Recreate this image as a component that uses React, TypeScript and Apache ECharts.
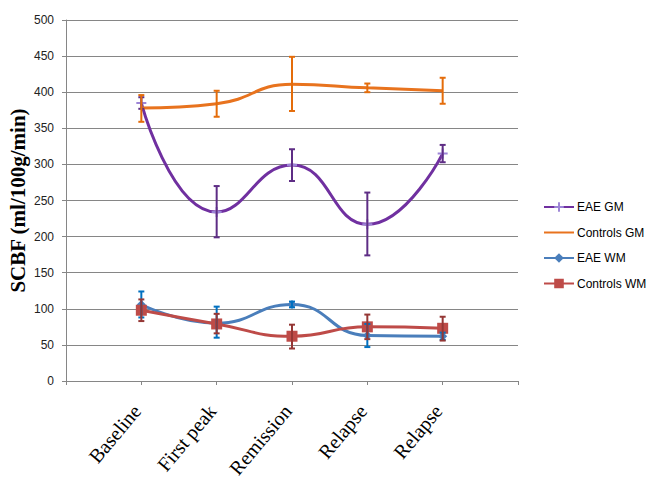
import React, { useEffect, useRef } from "react";
import * as echarts from "echarts";

const categories = ["Baseline", "First peak", "Remission", "Relapse", "Relapse"];
const seriesNames = ["EAE GM", "Controls GM", "EAE WM", "Controls WM"];

const eaeGM = [385, 234, 299, 217, 315];
const eaeGMLow = [377, 199, 277, 174, 303];
const eaeGMHigh = [393, 270, 321, 261, 327];

const ctrlGM = [378, 384, 411, 406, 402];
const ctrlGMLow = [359, 366, 374, 400, 384];
const ctrlGMHigh = [396, 402, 449, 412, 420];

const eaeWM = [106, 80, 106, 63, 62];
const eaeWMLow = [88, 60, 102, 47, 57];
const eaeWMHigh = [124, 103, 110, 79, 67];

const ctrlWM = [98, 79, 62, 75, 73];
const ctrlWMLow = [83, 66, 45, 58, 56];
const ctrlWMHigh = [113, 93, 78, 92, 89];

const yTicks = [0, 50, 100, 150, 200, 250, 300, 350, 400, 450, 500];

const lineColors = ["#7030A0", "#E8731E", "#4A7EBB", "#BE4B48"];
const barColors = ["#5E2D85", "#E46C0A", "#0070C0", "#953735"];

export default function App() {
  const ref = useRef<HTMLDivElement>(null);
  useEffect(() => {
    document.body.style.margin = "0";
    const chart = echarts.init(ref.current!, null, { renderer: "svg" });
    const pts = (vals: number[]) => vals.map((v, i) => [i + 1, v]);
    const errs = (lo: number[], hi: number[]) => lo.map((l, i) => [i + 1, l, hi[i]]);
    const errSeries = (name: string, lo: number[], hi: number[], color: string) => ({
      type: "custom",
      name: name + " err",
      data: errs(lo, hi),
      z: 5,
      silent: true,
      renderItem: (params: any, api: any) => {
        const x = api.value(0);
        const a = api.coord([x, api.value(1)]);
        const b = api.coord([x, api.value(2)]);
        const w = 3;
        const style = { stroke: color, lineWidth: 2 };
        return {
          type: "group",
          children: [
            { type: "line", shape: { x1: a[0], y1: a[1], x2: b[0], y2: b[1] }, style },
            { type: "line", shape: { x1: a[0] - w, y1: a[1], x2: a[0] + w, y2: a[1] }, style },
            { type: "line", shape: { x1: b[0] - w, y1: b[1], x2: b[0] + w, y2: b[1] }, style },
          ],
        };
      },
    });
    const lineSeries = (name: string, vals: number[], color: string, symbol: string, size: number, symColor: string) => ({
      type: "line",
      name,
      data: pts(vals),
      smooth: 0.5,
      symbol,
      symbolSize: size,
      lineStyle: { color, width: 3 },
      itemStyle: { color: symColor },
      z: 3,
    });
    chart.setOption({
      animation: false,
      grid: { left: 66, right: 136, top: 20, bottom: 105, containLabel: false, outerBoundsMode: "none" },
      legend: {
        orient: "vertical",
        left: 538,
        top: 196,
        itemWidth: 30,
        itemHeight: 12,
        itemGap: 13.5,
        data: seriesNames,
        textStyle: { fontFamily: "Liberation Sans", fontSize: 12, color: "#000", padding: [0, 0, 0, -2] },
      },
      xAxis: {
        type: "value",
        min: 0,
        max: 6,
        interval: 1,
        splitLine: { show: false },
        axisLine: { lineStyle: { color: "#868686", width: 1 } },
        axisTick: { show: true, length: 4, lineStyle: { color: "#868686" } },
        axisLabel: {
          rotate: 50,
          margin: 21,
          padding: [0, 7, 0, 0],
          fontFamily: "Liberation Serif",
          fontSize: 20,
          color: "#000",
          formatter: (v: number) => categories[v - 1] ?? "",
        },
      },
      yAxis: {
        type: "value",
        min: yTicks[0],
        max: yTicks[yTicks.length - 1],
        interval: 50,
        name: "SCBF (ml/100g/min)",
        nameLocation: "middle",
        nameGap: 38,
        nameMoveOverlap: false,
        nameTextStyle: { fontFamily: "Liberation Serif", fontSize: 21, fontWeight: "bold", color: "#000" },
        axisLine: { show: true, lineStyle: { color: "#868686", width: 1 } },
        axisTick: { show: true, length: 4, lineStyle: { color: "#868686" } },
        splitLine: { lineStyle: { color: "#868686", width: 1 } },
        axisLabel: { fontFamily: "Liberation Sans", fontSize: 12, color: "#222", margin: 12 },
      },
      series: [
        lineSeries(seriesNames[0], eaeGM, lineColors[0], "path://M4,0h2v4h4v2h-4v4h-2v-4h-4v-2h4z", 10, "#9C84D6"),
        { ...lineSeries(seriesNames[1], ctrlGM, lineColors[1], "circle", 0, "rgba(0,0,0,0)"), showSymbol: false },
        lineSeries(seriesNames[2], eaeWM, lineColors[2], "diamond", 9, lineColors[2]),
        lineSeries(seriesNames[3], ctrlWM, lineColors[3], "rect", 11, lineColors[3]),
        errSeries(seriesNames[0], eaeGMLow, eaeGMHigh, barColors[0]),
        errSeries(seriesNames[1], ctrlGMLow, ctrlGMHigh, barColors[1]),
        errSeries(seriesNames[2], eaeWMLow, eaeWMHigh, barColors[2]),
        errSeries(seriesNames[3], ctrlWMLow, ctrlWMHigh, barColors[3]),
      ],
    });
    return () => chart.dispose();
  }, []);
  return <div ref={ref} style={{ width: 654, height: 486 }} />;
}
